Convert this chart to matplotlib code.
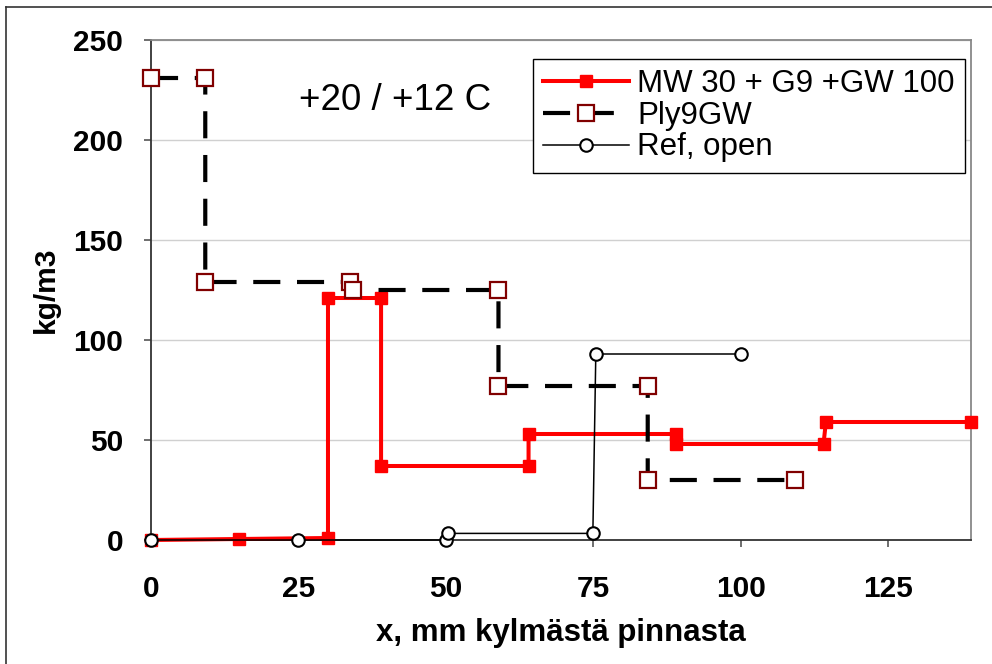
import matplotlib
matplotlib.use("Agg")
import matplotlib.pyplot as plt
from matplotlib.lines import Line2D

plt.rcParams['font.family'] = ['Liberation Sans', 'DejaVu Sans']

# Data
mw_x = [0, 15, 30, 30, 39, 39, 64, 64, 89, 89, 114, 114.4, 139]
mw_y = [0, 0.5, 1, 121, 121, 37, 37, 53, 53, 48, 48, 59, 59]
ply_x = [0, 9.2, 9.2, 33.8, 34.2, 58.9, 58.9, 84.2, 84.2, 109.1]
ply_y = [231, 231, 129, 129, 125, 125, 77, 77, 30, 30]
ref_x = [0, 25, 50, 50.3, 74.9, 75.4, 100]
ref_y = [0, 0, 0, 3.3, 3.3, 93, 93]
labels = ["MW 30 + G9 +GW 100", "Ply9GW", "Ref, open"]
x_ticks = [0, 25, 50, 75, 100, 125]
y_ticks = [0, 50, 100, 150, 200, 250]

W, H = 992, 664
fig = plt.figure(figsize=(W / 100, H / 100), dpi=100)
ax = fig.add_axes([151 / W, 1 - 540 / H, (971 - 151) / W, (540 - 40) / H])

ax.plot(mw_x, mw_y, color='#ff0000', lw=2.9, marker='s', ms=8.5,
        mfc='#ff0000', mec='#ff0000', label=labels[0], clip_on=False, zorder=3)
ax.plot(ply_x, ply_y, color='black', lw=3.0, dashes=(6.5, 4.0), marker='s', ms=11,
        mfc='white', mec='#800000', mew=1.6, label=labels[1], clip_on=False, zorder=4)
ax.plot(ref_x, ref_y, color='black', lw=1.1, marker='o', ms=9,
        mfc='white', mec='black', mew=1.5, label=labels[2], clip_on=False, zorder=5)

ax.set_xlim(0, 139)
ax.set_ylim(0, 250)
ax.set_xticks(x_ticks)
ax.set_yticks(y_ticks)
ax.yaxis.grid(True, color='#d0d0d0', lw=1.0)
ax.set_axisbelow(True)
ax.tick_params(axis='both', direction='out', length=5, width=1.2, color='#555555',
               labelsize=21.5)
ax.tick_params(axis='x', pad=20)
ax.tick_params(axis='y', pad=15)
for lab in ax.get_xticklabels() + ax.get_yticklabels():
    lab.set_fontweight('bold')
for s in ['left', 'bottom']:
    ax.spines[s].set_color('#333333')
    ax.spines[s].set_linewidth(1.3)
for s in ['top', 'right']:
    ax.spines[s].set_color('#888888')
    ax.spines[s].set_linewidth(1.3)

ax.set_xlabel('x, mm kylmästä pinnasta', fontsize=22.5, fontweight='bold', labelpad=11)
ax.set_ylabel('kg/m3', fontsize=21.5, fontweight='bold', labelpad=10)

ax.text(395 / W, 1 - 101 / H, '+20 / +12 C', transform=fig.transFigure,
        fontsize=26.5, ha='center', va='center')

leg = ax.legend(loc='upper left', bbox_to_anchor=(533 / W, 1 - 59 / H),
                bbox_transform=fig.transFigure, borderaxespad=0, fontsize=22.5,
                frameon=True, fancybox=False, edgecolor='black', framealpha=1,
                handlelength=2.75, handletextpad=0.25, labelspacing=0.05,
                borderpad=0.33)
leg.get_frame().set_linewidth(1.0)

# Figure border
fig.add_artist(Line2D([6 / W, 6 / W], [0, 1 - 7 / H], transform=fig.transFigure,
                      color='#333333', lw=1.2))
fig.add_artist(Line2D([6 / W, 1], [1 - 7 / H, 1 - 7 / H], transform=fig.transFigure,
                      color='#333333', lw=1.2))

fig.savefig('out.png', dpi=100)
